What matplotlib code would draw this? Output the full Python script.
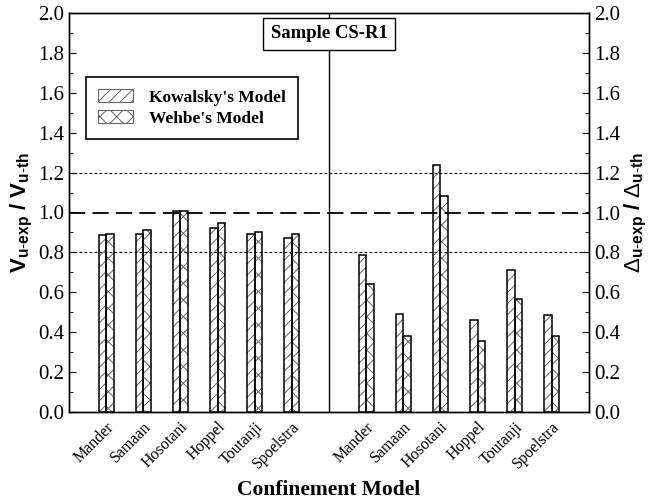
import matplotlib
matplotlib.use('Agg')
import matplotlib.pyplot as plt
from matplotlib.patches import Patch
from matplotlib.ticker import MultipleLocator, FormatStrFormatter

plt.rcParams['font.family'] = 'Liberation Serif'
plt.rcParams['mathtext.fontset'] = 'custom'
plt.rcParams['mathtext.rm'] = 'Liberation Sans'
plt.rcParams['mathtext.bf'] = 'Liberation Sans:bold'
plt.rcParams['mathtext.it'] = 'Liberation Sans:italic'
plt.rcParams['hatch.linewidth'] = 0.7

# 데이터
models = ['Mander', 'Samaan', 'Hosotani', 'Hoppel', 'Toutanji', 'Spoelstra']
# 왼쪽: 전단강도비 V_u-exp / V_u-th
v_kowalsky = [0.885, 0.89, 1.007, 0.923, 0.89, 0.873]
v_wehbe = [0.893, 0.913, 1.007, 0.948, 0.90, 0.89]
# 오른쪽: 변위비 Δ_u-exp / Δ_u-th
d_kowalsky = [0.785, 0.493, 1.238, 0.46, 0.71, 0.485]
d_wehbe = [0.64, 0.383, 1.082, 0.358, 0.568, 0.38]

pos_left = [1, 2, 3, 4, 5, 6]
pos_right = [8, 9, 10, 11, 12, 13]
w = 0.2

fig = plt.figure(figsize=(6.5, 5.03), dpi=100)
ax = fig.add_axes([69/650, 1-412/503, 520/650, 399/503])

def draw_bars(xs, vals, offset, hatch):
    xx = [x + offset for x in xs]
    # 해치는 회색, 테두리는 검정
    ax.bar(xx, vals, width=w, color='white', edgecolor='0.4', hatch=hatch, linewidth=0, zorder=3)
    ax.bar(xx, vals, width=w, fill=False, edgecolor='black', linewidth=1.1, zorder=4)

draw_bars(pos_left, v_kowalsky, -w/2, '///')
draw_bars(pos_left, v_wehbe, w/2, 'xx')
draw_bars(pos_right, d_kowalsky, -w/2, '///')
draw_bars(pos_right, d_wehbe, w/2, 'xx')

# 기준선
ax.axhline(1.0, color='black', lw=1.3, ls=(0, (9, 4)), zorder=5)
ax.axhline(0.8, color='black', lw=0.8, ls=(0, (2.5, 2)), zorder=5)
ax.axhline(1.2, color='black', lw=0.8, ls=(0, (2.5, 2)), zorder=5)
ax.axvline(7, color='black', lw=1.0, zorder=5)

ax.set_xlim(0, 14)
ax.set_ylim(0, 2.0)
ax.set_xticks(pos_left + pos_right)
ax.set_xticklabels(models + models, rotation=45, ha='right', rotation_mode='anchor', fontsize=11.5)
ax.tick_params(axis='x', length=0, pad=5)

ax.yaxis.set_major_locator(MultipleLocator(0.2))
ax.yaxis.set_minor_locator(MultipleLocator(0.1))
ax.yaxis.set_major_formatter(FormatStrFormatter('%.1f'))
ax.tick_params(axis='y', which='both', direction='in', labelsize=15, left=True, right=True)
ax.tick_params(axis='y', which='major', length=5)
ax.tick_params(axis='y', which='minor', length=3)

ax2 = ax.twinx()
ax2.set_ylim(0, 2.0)
ax2.yaxis.set_major_locator(MultipleLocator(0.2))
ax2.yaxis.set_minor_locator(MultipleLocator(0.1))
ax2.yaxis.set_major_formatter(FormatStrFormatter('%.1f'))
ax2.tick_params(axis='y', which='both', direction='in', labelsize=15)
ax2.tick_params(axis='y', which='major', length=5)
ax2.tick_params(axis='y', which='minor', length=3)
for a in (ax, ax2):
    for s in a.spines.values():
        s.set_linewidth(1.0)

ax.set_ylabel(r'$\mathbf{V}_{\mathbf{u\text{-}exp}}\ \mathbf{/\ V}_{\mathbf{u\text{-}th}}$', fontsize=16, labelpad=2)
ax2.set_ylabel(r'$\Delta_{\mathbf{u\text{-}exp}}\ \mathbf{/}\ \Delta_{\mathbf{u\text{-}th}}$', fontsize=16, labelpad=2)
# x축 제목은 그림 좌표로 직접 배치
fig.text(329/650, 1-490/503, 'Confinement Model', ha='center', va='center',
         fontsize=15.5, fontweight='bold')

# 샘플 이름 박스
ax.text(7, 1.895, 'Sample CS-R1', ha='center', va='center', fontsize=13.5, fontweight='bold',
        bbox=dict(boxstyle='square,pad=0.4', facecolor='white', edgecolor='black', linewidth=1.0), zorder=6)

handles = [Patch(facecolor='white', edgecolor='0.4', hatch='///', linewidth=0.8),
           Patch(facecolor='white', edgecolor='0.4', hatch='xx', linewidth=0.8)]
leg = ax.legend(handles, ["Kowalsky's Model", "Wehbe's Model"], loc='upper left',
                bbox_to_anchor=(0.033, 0.84), borderaxespad=0, fancybox=False,
                edgecolor='black', framealpha=1, prop={'weight': 'bold', 'size': 12.5},
                handlelength=2.0, handleheight=0.8, borderpad=0.7, labelspacing=0.25,
                handletextpad=0.9)
leg.get_frame().set_linewidth(1.2)
leg.set_zorder(7)

fig.savefig('out.png', dpi=100)
